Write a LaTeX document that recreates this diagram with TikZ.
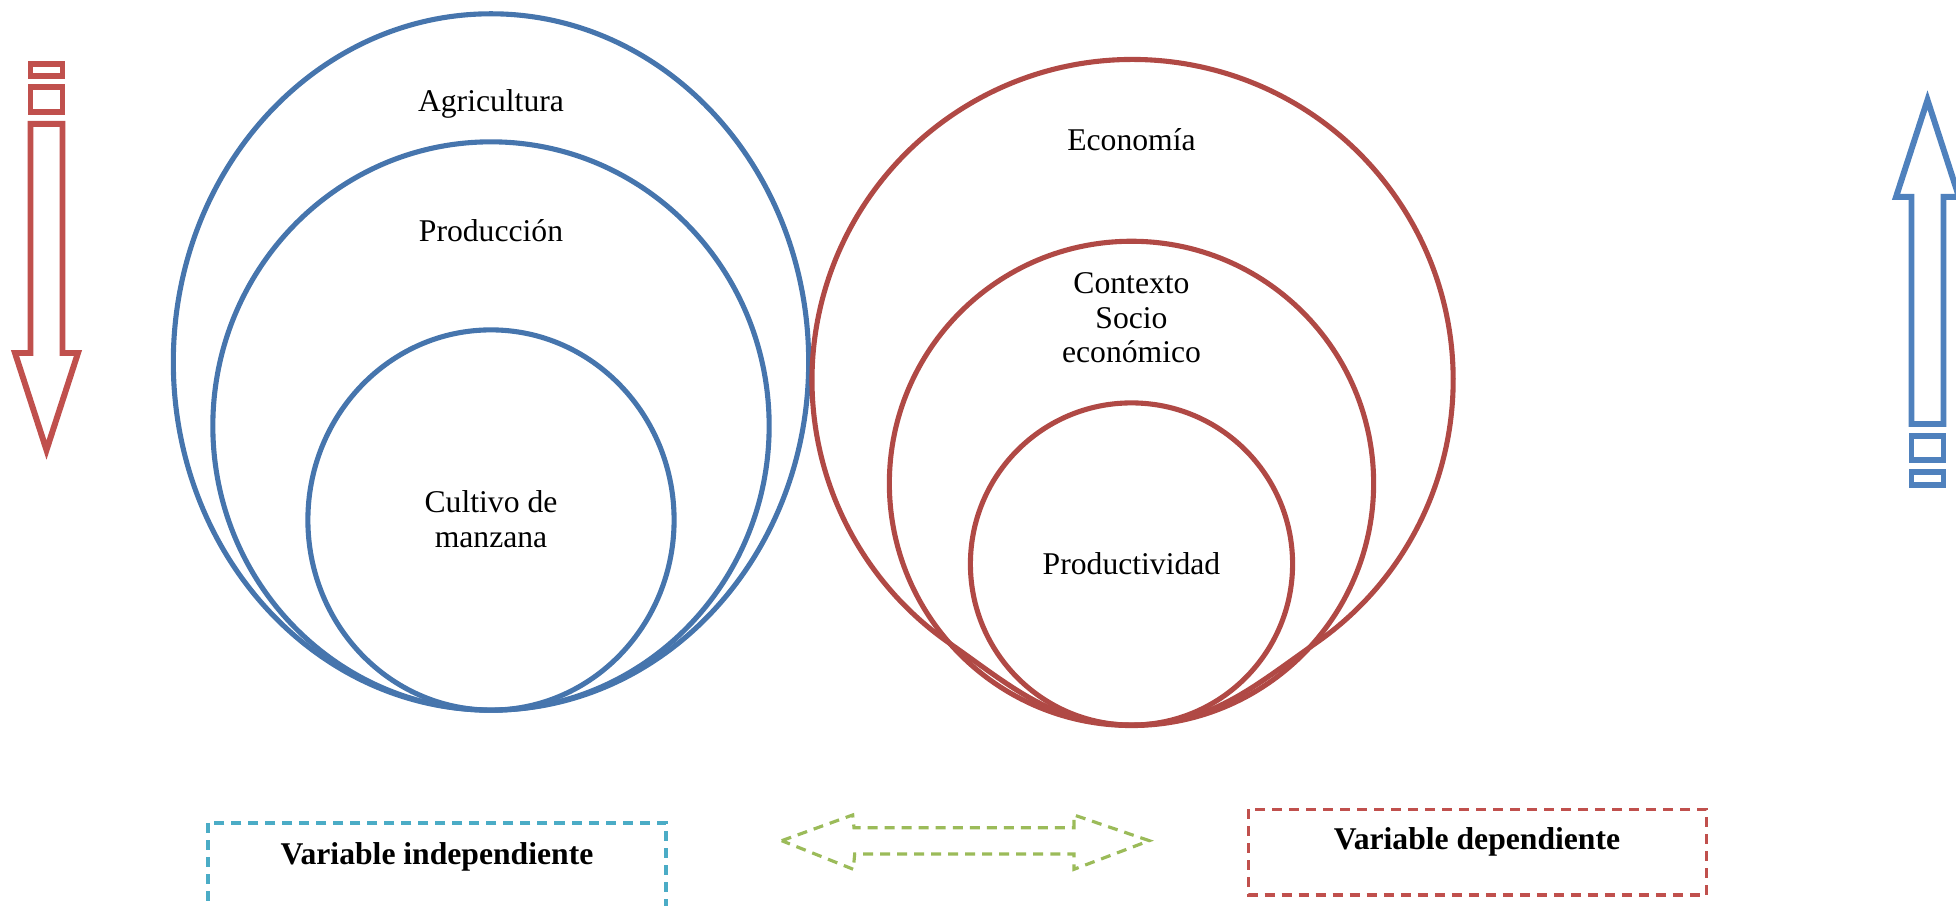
\documentclass[tikz,border=0pt]{standalone}
\usepackage{fontspec}
\setmainfont{Liberation Serif}
\usetikzlibrary{shapes.geometric}
\definecolor{ringblue}{RGB}{70,117,173}
\definecolor{ringred}{RGB}{176,73,69}
\definecolor{arrowred}{RGB}{192,80,77}
\definecolor{arrowblue}{RGB}{79,129,189}
\definecolor{boxcyan}{RGB}{75,172,198}
\definecolor{arrowgreen}{RGB}{155,187,89}
\begin{document}
\begin{tikzpicture}[x=0.01cm,y=0.01cm,
  ring/.style={ellipse, draw, line width=1.45pt, inner sep=0pt},
  lbl/.style={align=center, font=\fontsize{9}{9.8}\selectfont},
  vlbl/.style={anchor=base, font=\fontsize{9}{9.8}\selectfont\bfseries},
  vbox/.style={line width=0.9pt, dash pattern=on 0.1cm off 0.07cm},
  bigarrow/.style={line width=1.7pt, line join=miter}]
\clip (0,0) rectangle (1956,906);
% independent side
\node[ring, draw=ringblue, minimum width=6.35cm, minimum height=6.96cm] (agri) at (491,544){};
\node[ring, draw=ringblue, minimum width=5.56cm, minimum height=5.68cm] (prod) at (491,480){};
\node[ring, draw=ringblue, minimum width=3.66cm, minimum height=3.80cm] (cult) at (491,386){};
\node[lbl] (tagri) at (491,802){Agricultura};
\node[lbl] (tprod) at (491,675){Producción};
\node[lbl] (tcult) at (491,387){Cultivo de\\manzana};
% dependent side
\draw[ringred, line width=1.45pt] (1316,263) arc[start angle=304.9, end angle=595.1, radius=320.6]
  to[out=325, in=180] (1131.5,181) to[out=0, in=215] cycle;
\node[ring, draw=ringred, minimum size=4.84cm] (ctx) at (1131.5,422.6){};
\node[ring, draw=ringred, minimum size=3.22cm] (ptv) at (1131.5,342){};
\node[lbl] (teco) at (1131.5,766){Economía};
\node[lbl] (tctx) at (1131.5,588){Contexto\\Socio\\económico};
\node[lbl] (tptv) at (1131.5,342){Productividad};
% side arrows
\draw[bigarrow, arrowred] (30.5,830) rectangle (62.5,842);
\draw[bigarrow, arrowred] (30.5,794) rectangle (62.5,819);
\draw[bigarrow, arrowred] (30.5,782) -- (62.5,782) -- (62.5,553) -- (78,553) -- (46.5,456)
  -- (15,553) -- (30.5,553) -- cycle;
\draw[bigarrow, arrowblue] (1911.5,421) rectangle (1943.5,434);
\draw[bigarrow, arrowblue] (1911.5,446) rectangle (1943.5,470);
\draw[bigarrow, arrowblue] (1911.5,482) -- (1943.5,482) -- (1943.5,709) -- (1959,709) -- (1927.5,806)
  -- (1896,709) -- (1911.5,709) -- cycle;
% bottom
\draw[vbox, boxcyan] (208,83) rectangle (666,-20);
\node[vlbl] (indep) at (437,41){Variable independiente};
\draw[vbox, arrowgreen] (781.7,65.3) -- (852.7,91) -- (854,78.2) -- (1074,78.2) -- (1074,91)
  -- (1149.3,65.3) -- (1074,36.7) -- (1074,52) -- (854.7,52) -- (853.3,36.7) -- cycle;
\draw[vbox, arrowred] (1248.3,96.7) rectangle (1706.7,11);
\node[vlbl] (dep) at (1477,56){Variable dependiente};
\end{tikzpicture}
\end{document}
